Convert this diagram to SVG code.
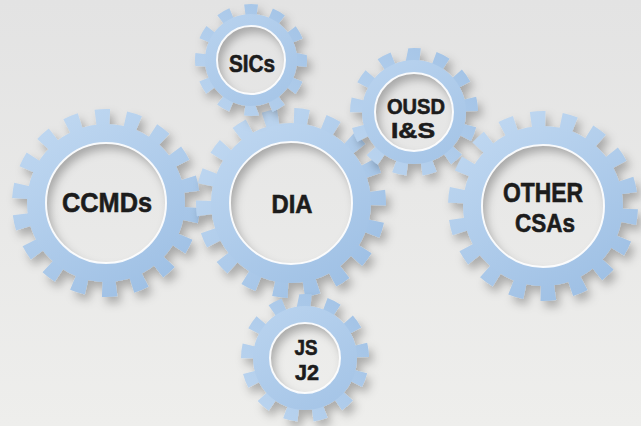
<svg xmlns="http://www.w3.org/2000/svg" width="641" height="426" viewBox="0 0 641 426">
<defs>
<linearGradient id="bg" x1="0" y1="0" x2="0" y2="1">
<stop offset="0" stop-color="#e3e3e3"/>
<stop offset="1" stop-color="#eeeeec"/>
</linearGradient>
<linearGradient id="gearFill" gradientUnits="userSpaceOnUse" x1="-60" y1="-90" x2="60" y2="90">
<stop offset="0" stop-color="#c0d8f1"/>
<stop offset="1" stop-color="#9dbfe4"/>
</linearGradient>
<filter id="sh" x="-30%" y="-30%" width="160%" height="160%">
<feDropShadow dx="4" dy="6" stdDeviation="5" flood-color="#000" flood-opacity="0.28"/>
</filter>
<style>
.body{fill:url(#gearFill);fill-rule:evenodd}
.teeth{fill:none;stroke:url(#gearFill)}
.rim{fill:none;stroke:#ffffff;stroke-width:2;opacity:0.9}
.lbl{font-family:"Liberation Sans","Arial",sans-serif;font-weight:bold;fill:#1c1c1c;stroke:#1c1c1c;stroke-width:0.6;text-anchor:middle}
</style>
</defs>
<rect width="641" height="426" fill="url(#bg)"/>
<g id="connectors"/>

<g id="node-ccmds" transform="translate(106,203)">
<g filter="url(#sh)">
<circle class="teeth" r="86" stroke-width="16" pathLength="36" stroke-dasharray="0.95 1.05" transform="rotate(3)"/>
<path class="body" d="M79,0A79,79 0 1,0 -79,0A79,79 0 1,0 79,0ZM60,0A60,60 0 1,0 -60,0A60,60 0 1,0 60,0Z"/>
</g>
<circle class="rim" r="60"/>
<text class="lbl" x="1" y="9" font-size="28" textLength="90" lengthAdjust="spacingAndGlyphs">CCMDs</text>
</g>

<g id="node-dia" transform="translate(291,203)">
<g filter="url(#sh)">
<circle class="teeth" r="87" stroke-width="16" pathLength="36" stroke-dasharray="0.95 1.05" transform="rotate(-8)"/>
<path class="body" d="M80,0A80,80 0 1,0 -80,0A80,80 0 1,0 80,0ZM61,0A61,61 0 1,0 -61,0A61,61 0 1,0 61,0Z"/>
</g>
<circle class="rim" r="61"/>
<text class="lbl" x="1" y="10" font-size="26" textLength="41" lengthAdjust="spacingAndGlyphs">DIA</text>
</g>

<g id="node-sics" transform="translate(251,60)">
<g filter="url(#sh)">
<circle class="teeth" r="50.5" stroke-width="11" pathLength="24" stroke-dasharray="0.95 1.05" transform="rotate(-97)"/>
<path class="body" d="M46,0A46,46 0 1,0 -46,0A46,46 0 1,0 46,0ZM34,0A34,34 0 1,0 -34,0A34,34 0 1,0 34,0Z"/>
</g>
<circle class="rim" r="34"/>
<text class="lbl" x="1" y="12" font-size="23" textLength="46" lengthAdjust="spacingAndGlyphs">SICs</text>
</g>

<g id="node-ousd" transform="translate(414,112)">
<g filter="url(#sh)">
<circle class="teeth" r="57.5" stroke-width="13" pathLength="26" stroke-dasharray="0.95 1.05" transform="rotate(-97)"/>
<path class="body" d="M52,0A52,52 0 1,0 -52,0A52,52 0 1,0 52,0ZM39,0A39,39 0 1,0 -39,0A39,39 0 1,0 39,0Z"/>
</g>
<circle class="rim" r="39"/>
<text class="lbl" x="2" y="2" font-size="22" textLength="58" lengthAdjust="spacingAndGlyphs">OUSD</text>
<text class="lbl" x="-1" y="26" font-size="22" textLength="44" lengthAdjust="spacingAndGlyphs">I&amp;S</text>
</g>

<g id="node-other" transform="translate(543,206)">
<g filter="url(#sh)">
<circle class="teeth" r="87" stroke-width="16" pathLength="36" stroke-dasharray="0.95 1.05" transform="rotate(2)"/>
<path class="body" d="M80,0A80,80 0 1,0 -80,0A80,80 0 1,0 80,0ZM61,0A61,61 0 1,0 -61,0A61,61 0 1,0 61,0Z"/>
</g>
<circle class="rim" r="61"/>
<text class="lbl" x="0" y="-4" font-size="27" textLength="80" lengthAdjust="spacingAndGlyphs">OTHER</text>
<text class="lbl" x="2" y="26" font-size="26" textLength="60" lengthAdjust="spacingAndGlyphs">CSAs</text>
</g>

<g id="node-jsj2" transform="translate(305,358)">
<g filter="url(#sh)">
<circle class="teeth" r="57.5" stroke-width="13" pathLength="26" stroke-dasharray="0.95 1.05" transform="rotate(-97)"/>
<path class="body" d="M52,0A52,52 0 1,0 -52,0A52,52 0 1,0 52,0ZM35,0A35,35 0 1,0 -35,0A35,35 0 1,0 35,0Z"/>
</g>
<circle class="rim" r="35"/>
<text class="lbl" x="1" y="-3" font-size="22" textLength="23" lengthAdjust="spacingAndGlyphs">JS</text>
<text class="lbl" x="2" y="22" font-size="22" textLength="24" lengthAdjust="spacingAndGlyphs">J2</text>
</g>
</svg>
